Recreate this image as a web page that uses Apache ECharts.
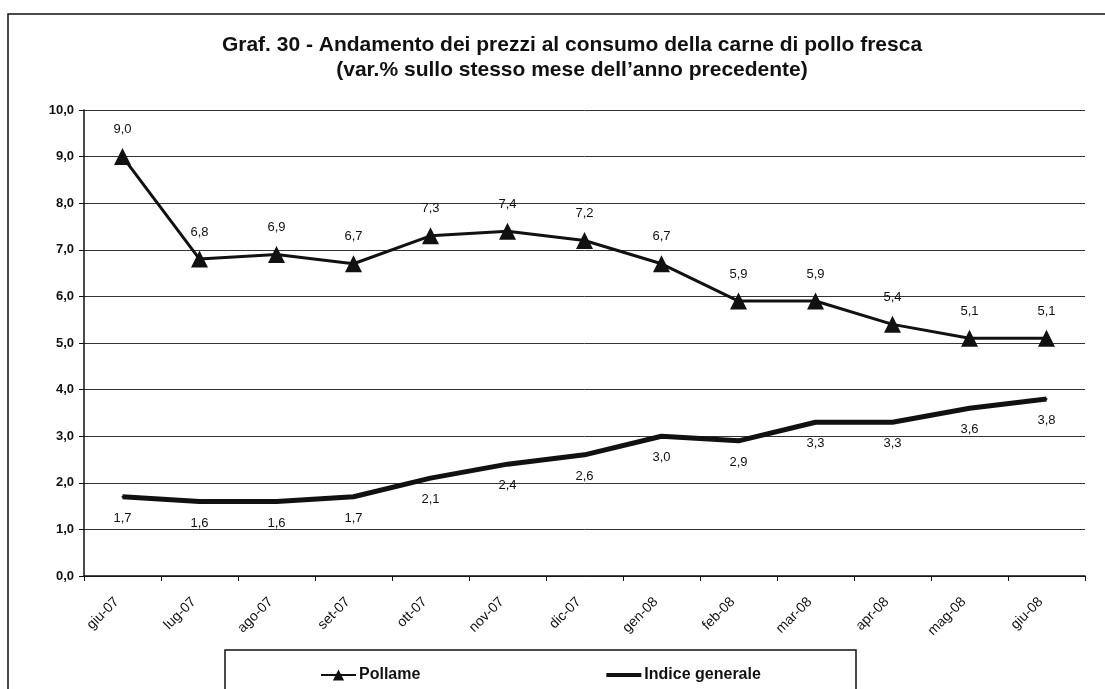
<!DOCTYPE html>
<html>
<head>
<meta charset="utf-8">
<script src="https://cdn.jsdelivr.net/npm/echarts@6/dist/echarts.min.js"></script>
<style>
html,body{margin:0;padding:0;background:#fff;}
#chart{width:1105px;height:689px;}
</style>
</head>
<body>
<div id="chart"></div>
<script>
var categories = ['giu-07','lug-07','ago-07','set-07','ott-07','nov-07','dic-07','gen-08','feb-08','mar-08','apr-08','mag-08','giu-08'];
var pollame = [9.0, 6.8, 6.9, 6.7, 7.3, 7.4, 7.2, 6.7, 5.9, 5.9, 5.4, 5.1, 5.1];
var indiceGenerale = [1.7, 1.6, 1.6, 1.7, 2.1, 2.4, 2.6, 3.0, 2.9, 3.3, 3.3, 3.6, 3.8];
var titleLines = ['Graf. 30 - Andamento dei prezzi al consumo della carne di pollo fresca', '(var.% sullo stesso mese dell\u2019anno precedente)'];

function fmt(v){ return Number(v).toFixed(1).replace('.', ','); }
var FONT = '"Liberation Sans", Arial, sans-serif';

var chart = echarts.init(document.getElementById('chart'));
chart.setOption({
  backgroundColor: '#fff',
  animation: false,
  textStyle: { fontFamily: FONT },
  graphic: [
    { type: 'rect', shape: { x: 8, y: 14, width: 1200, height: 800 }, style: { fill: 'none', stroke: '#111', lineWidth: 1.5 }, silent: true },
    { type: 'rect', shape: { x: 225, y: 650, width: 631, height: 100 }, style: { fill: 'none', stroke: '#111', lineWidth: 1.5 }, silent: true },
    { type: 'text', x: 572, y: 45, style: { text: titleLines[0], font: 'bold 21px "Liberation Sans", Arial, sans-serif', fill: '#111', textAlign: 'center', textVerticalAlign: 'middle' }, silent: true },
    { type: 'text', x: 572, y: 70, style: { text: titleLines[1], font: 'bold 21px "Liberation Sans", Arial, sans-serif', fill: '#111', textAlign: 'center', textVerticalAlign: 'middle' }, silent: true }
  ],
  legend: {
    left: 315,
    top: 662,
    itemWidth: 35,
    itemHeight: 14,
    itemGap: 186,
    textStyle: { fontFamily: FONT, fontSize: 16, fontWeight: 'bold', color: '#111', padding: [0, 0, 0, -2] },
    data: [
      { name: 'Pollame' },
      { name: 'Indice generale', icon: 'path://M0,0 L35,0 L35,4 L0,4 Z' }
    ]
  },
  grid: { left: 84, right: 20, top: 110, bottom: 113, containLabel: false },
  xAxis: {
    type: 'category',
    data: categories,
    boundaryGap: true,
    axisLine: { lineStyle: { color: '#111', width: 1.5 } },
    axisTick: { show: true, length: 5, lineStyle: { color: '#111' } },
    axisLabel: { rotate: 45, margin: 18, fontSize: 14, color: '#111', fontFamily: FONT, padding: [0, 8, 0, 0] }
  },
  yAxis: {
    type: 'value',
    min: 0,
    max: 10,
    interval: 1,
    axisLine: { show: true, lineStyle: { color: '#111', width: 1.5 } },
    axisTick: { show: true, length: 5, lineStyle: { color: '#111' } },
    axisLabel: { formatter: function(v){ return fmt(v); }, fontSize: 13, fontWeight: 'bold', color: '#111', margin: 10, fontFamily: FONT },
    splitLine: { show: true, lineStyle: { color: '#333', width: 1 } }
  },
  series: [
    {
      name: 'Pollame',
      type: 'line',
      data: pollame,
      symbol: 'triangle',
      symbolSize: 17,
      itemStyle: { color: '#111' },
      lineStyle: { color: '#111', width: 3 },
      label: { show: true, position: 'top', distance: 12, fontSize: 13, color: '#111', formatter: function(p){ return fmt(p.value); } },
      z: 3
    },
    {
      name: 'Indice generale',
      type: 'line',
      data: indiceGenerale,
      symbol: 'circle',
      symbolSize: 2,
      itemStyle: { color: '#111' },
      lineStyle: { color: '#111', width: 5 },
      label: { show: true, position: 'bottom', distance: 14, fontSize: 13, color: '#111', formatter: function(p){ return fmt(p.value); } },
      z: 2
    }
  ]
});
</script>
</body>
</html>
